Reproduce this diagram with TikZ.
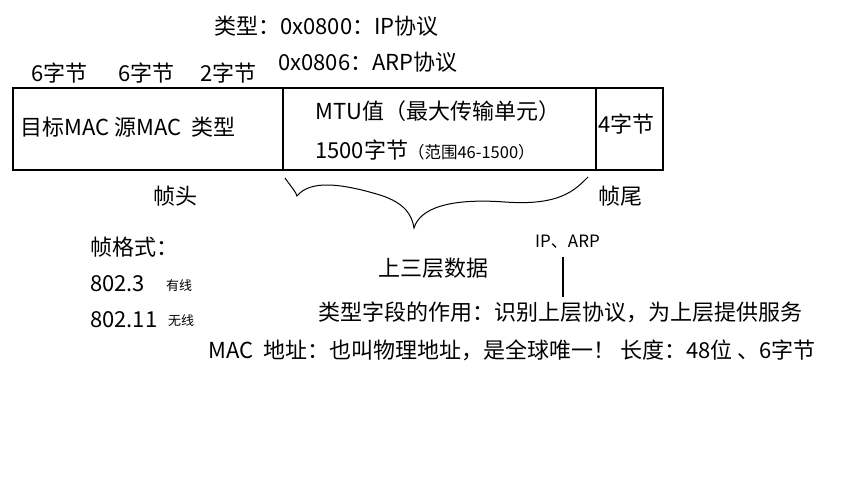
\documentclass[tikz,border=0pt]{standalone}
\usepackage{fontspec}
\setmainfont{Noto Sans CJK SC}
\begin{document}
\begin{tikzpicture}[x=1pt,y=-1pt,
  t/.style={anchor=west,inner sep=0pt,font=\fontsize{22}{22}\selectfont},
  s/.style={anchor=west,inner sep=0pt,font=\fontsize{13}{13}\selectfont},
  ln/.style={line width=1.4pt}]
\useasboundingbox[fill=white] (0,0) rectangle (856,500);
\draw[ln] (13,88) rectangle (663,170);
\draw[line width=2pt] (13,170) -- (663,170);
\draw[ln] (283,88) -- (283,170);
\draw[ln] (596,88) -- (596,170);
\node[t] (ty1) at (214,26) {类型：0x0800：IP协议};
\node[t] (ty2) at (278,62) {0x0806：ARP协议};
\node[t] (b6a) at (31,73) {6字节};
\node[t] (b6b) at (118,73) {6字节};
\node[t] (b2) at (200,73) {2字节};
\node[t] (f1) at (20,127) {目标MAC\ 源MAC\ \ 类型};
\node[t] (mtu) at (315,111) {MTU值（最大传输单元）};
\node[t] (mtu2) at (315,150) {1500字节\fontsize{16.5}{16.5}\selectfont（范围46-1500）};
\node[t] (b4) at (598,124) {4字节};
\node[t] (hd) at (153,196) {帧头};
\node[t] (tl) at (598,196) {帧尾};
\node[t] (fmt) at (90,247) {帧格式：};
\node[t] (e1) at (90,284) {802.3};
\node[s] (e1s) at (166,286) {有线};
\node[t] (e2) at (90,320) {802.11};
\node[s] (e2s) at (168,321) {无线};
\node[t] (up) at (378,268) {上三层数据};
\node[anchor=west,inner sep=0pt,font=\fontsize{17}{17}\selectfont] (ip) at (535,242) {IP、ARP};
\node[t] (role) at (318,312) {类型字段的作用：识别上层协议，为上层提供服务};
\node[t] (mac) at (208,350) {MAC\ \ 地址：也叫物理地址，是全球唯一！ 长度：48位 、6字节};
\coordinate (vtop) at (563,257);
\coordinate (vbot) at (563,297);
\draw[line width=1.6pt] (vtop) -- (vbot);
\coordinate (br) at (414,228);
\draw[line width=1pt] (285,178) .. controls (292,188) and (296,192) .. (297,196)
  .. controls (310,180) and (340,183) .. (380,195)
  .. controls (405,203) and (412,215) .. (br)
  .. controls (420,208) and (450,198) .. (505,202)
  .. controls (560,206) and (575,190) .. (588,177);
\end{tikzpicture}
\end{document}
